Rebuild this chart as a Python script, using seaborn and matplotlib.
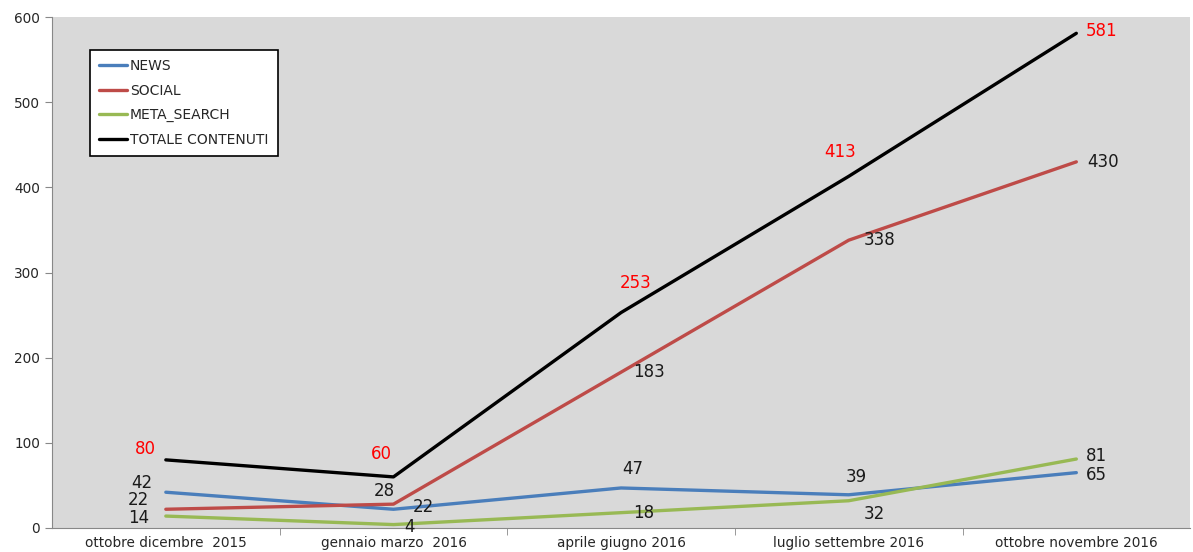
import pandas as pd
import numpy as np
import seaborn as sns
import matplotlib.pyplot as plt

# dati
periodi = ["ottobre dicembre  2015", "gennaio marzo  2016", "aprile giugno 2016",
           "luglio settembre 2016", "ottobre novembre 2016"]
news = [42, 22, 47, 39, 65]
social = [22, 28, 183, 338, 430]
meta_search = [14, 4, 18, 32, 81]
totale = [80, 60, 253, 413, 581]

serie = {"NEWS": news, "SOCIAL": social, "META_SEARCH": meta_search, "TOTALE CONTENUTI": totale}
colori = {"NEWS": "#4a7ebb", "SOCIAL": "#be4b48", "META_SEARCH": "#98b954", "TOTALE CONTENUTI": "#000000"}

df = pd.DataFrame([(p, k, v) for k, vals in serie.items() for p, v in zip(periodi, vals)],
                  columns=["periodo", "serie", "valore"])

sns.set_style("white")
fig = plt.figure(figsize=(11.93, 5.52), dpi=100)
ax = fig.add_axes([0.0436, 0.0435, 0.954, 0.9255])
ax.set_facecolor("#d9d9d9")

sns.lineplot(data=df, x="periodo", y="valore", hue="serie", palette=colori,
             linewidth=2.4, sort=False, ax=ax)

# offset etichette (pixel)
offsets = {
    "NEWS": [(-24, 9), (30, 2), (12, 19), (8, 18), (20, -2)],
    "SOCIAL": [(-27, 9), (-9, 13), (28, 0), (31, 0), (27, 0)],
    "META_SEARCH": [(-27, -2), (16, -2), (23, 0), (26, -13), (20, 3)],
    "TOTALE CONTENUTI": [(-20, 11), (-12, 23), (15, 30), (-9, 24), (25, 2)],
}
for nome, vals in serie.items():
    col = "red" if nome == "TOTALE CONTENUTI" else "#1a1a1a"
    for i, v in enumerate(vals):
        ax.annotate(str(v), (i, v), xytext=offsets[nome][i], textcoords="offset pixels",
                    ha="center", va="center", fontsize=12, color=col)

ax.set_xlim(-0.5, 4.5)
ax.set_ylim(0, 600)
ax.set_yticks(range(0, 601, 100))
ax.set_xticks(range(5))
ax.set_xticklabels(periodi, fontsize=9.8)
ax.set_xticks(np.arange(0.5, 4.5, 1), minor=True)
ax.tick_params(axis="x", which="major", length=0, pad=6)
ax.tick_params(axis="x", which="minor", length=5, color="#888888", direction="out", bottom=True)
ax.tick_params(axis="y", length=5, color="#888888", direction="out", left=True, labelsize=9.8)
ax.set_xlabel("")
ax.set_ylabel("")
for s in ["top", "right"]:
    ax.spines[s].set_visible(False)
for s in ["left", "bottom"]:
    ax.spines[s].set_color("#888888")

leg = ax.legend(loc="upper left", bbox_to_anchor=(0.027, 0.95), frameon=True, fontsize=10,
                handlelength=2.0, handletextpad=0.2, borderpad=0.7, labelspacing=0.75,
                fancybox=False, edgecolor="black", facecolor="white", framealpha=1)
leg.get_frame().set_linewidth(1.2)

fig.savefig("out.png", dpi=100)
